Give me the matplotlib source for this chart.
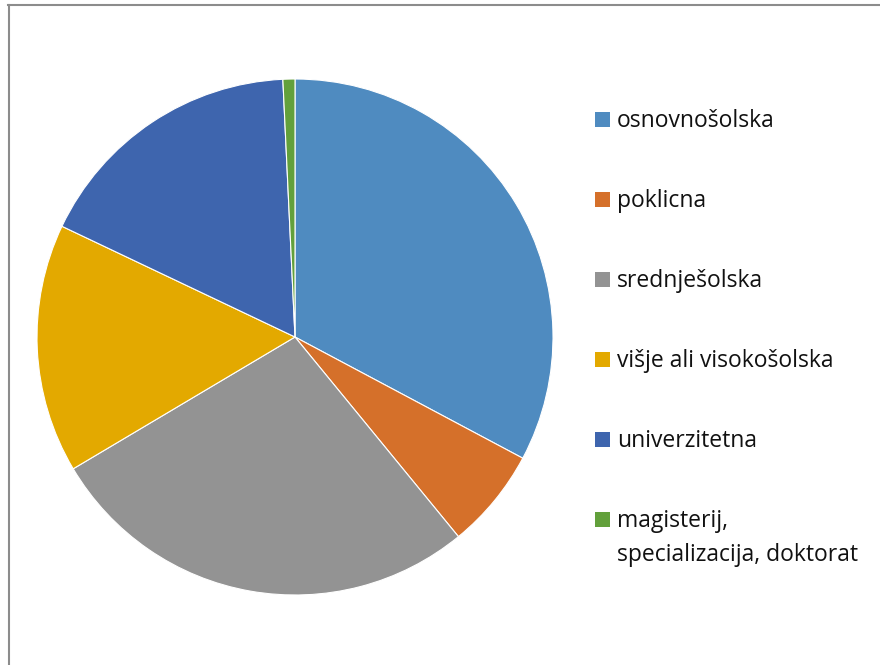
import matplotlib.pyplot as plt
from matplotlib.patches import Rectangle
from matplotlib.lines import Line2D

# education level shares (%)
labels = ['osnovnošolska', 'poklicna', 'srednješolska', 'višje ali visokošolska',
          'univerzitetna', 'magisterij,\nspecializacija, doktorat']
values = [32.8, 6.3, 27.4, 15.6, 17.2, 0.75]
colors = ['#4F8BC0', '#D5702A', '#939393', '#E3A900', '#3E65AE', '#62A03B']

W, H = 880, 665
fig = plt.figure(figsize=(W / 100, H / 100), dpi=100)

# pie centred at (295, 337) px, radius 258 px
cx, cy, r = 295, 337, 258
ax = fig.add_axes([(cx - r) / W, (H - cy - r) / H, 2 * r / W, 2 * r / H])
ax.pie(values, colors=colors, startangle=90, counterclock=False,
       wedgeprops=dict(edgecolor='white', linewidth=0.8))
ax.set_xlim(-1, 1)
ax.set_ylim(-1, 1)
ax.set_aspect('equal')
ax.axis('off')

# chart border (left and top visible)
fig.add_artist(Line2D([8.5 / W, 8.5 / W], [0, 1 - 4.5 / H], color='#8C8C8C',
                      lw=1.5, transform=fig.transFigure))
fig.add_artist(Line2D([8 / W, 1], [1 - 4.5 / H, 1 - 4.5 / H], color='#8C8C8C',
                      lw=1.5, transform=fig.transFigure))

# legend
for i, (lab, col) in enumerate(zip(labels, colors)):
    y = 127 + i * 80
    fig.add_artist(Rectangle((595 / W, 1 - y / H), 15 / W, 15 / H,
                             facecolor=col, edgecolor='none',
                             transform=fig.transFigure))
    for k, line in enumerate(lab.split('\n')):
        fig.text(617 / W, 1 - (y + k * 34) / H, line, ha='left', va='baseline',
                 fontsize=16.5, family='Open Sans', color='#111111')

fig.savefig('out.png', dpi=100)
